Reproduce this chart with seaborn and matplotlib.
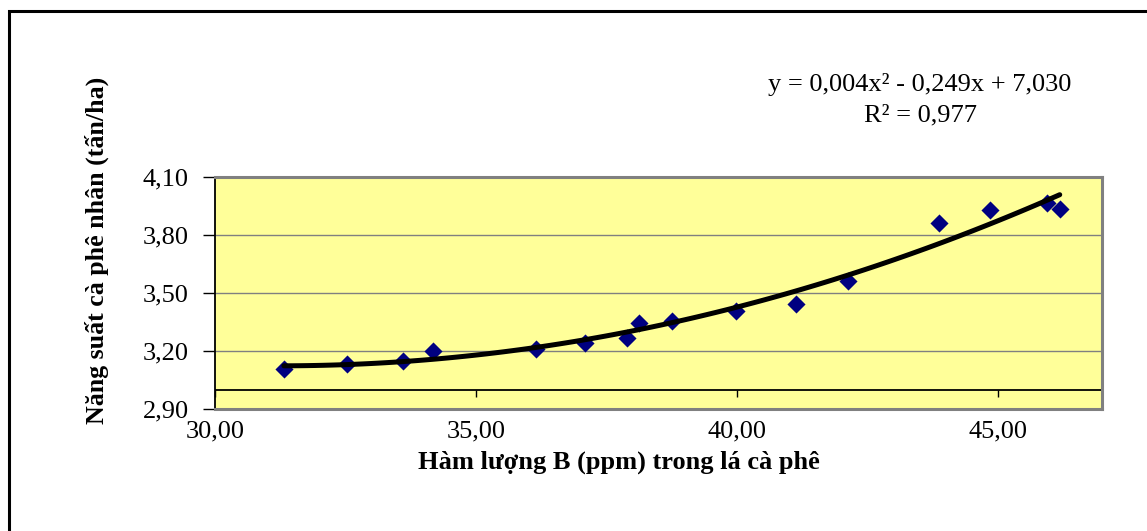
import numpy as np
import pandas as pd
import matplotlib
matplotlib.use("Agg")
import matplotlib.pyplot as plt
from matplotlib.ticker import FuncFormatter
from matplotlib.patches import Rectangle
import seaborn as sns

# Data
boron_ppm = [31.32, 32.53, 33.61, 34.18, 36.15, 37.09, 37.90, 38.12, 38.75,
             39.99, 41.14, 42.14, 43.87, 44.85, 45.94, 46.19]
yield_t_ha = [3.105, 3.135, 3.147, 3.202, 3.211, 3.240, 3.269, 3.347, 3.354,
              3.409, 3.444, 3.564, 3.862, 3.927, 3.965, 3.936]
x_ticks = [30, 35, 40, 45]
y_ticks = [2.90, 3.20, 3.50, 3.80, 4.10]
equation_text = "y = 0,004x\u00b2 - 0,249x + 7,030"
r2_text = "R\u00b2 = 0,977"
x_label = "Hàm lượng B (ppm) trong lá cà phê"
y_label = "Năng suất cà phê nhân (tấn/ha)"

df = pd.DataFrame({"B": boron_ppm, "NS": yield_t_ha})

sns.set_theme(style="white")
plt.rcParams["font.family"] = ["Liberation Serif", "DejaVu Serif"]
plt.rcParams["text.color"] = "black"

W, H = 1147, 531
fig = plt.figure(figsize=(W / 100, H / 100), dpi=100)
ax = fig.add_axes([215 / W, 1 - 409 / H, (1102 - 215) / W, (409 - 177) / H])
ax.set_facecolor("#FFFF99")

sns.regplot(data=df, x="B", y="NS", order=2, ci=None, ax=ax, marker="D",
            scatter_kws=dict(s=85, color="#000080", alpha=1, linewidths=0, zorder=3),
            line_kws=dict(color="black", lw=3.6, zorder=4))

ax.set_xlim(30, 47)
ax.set_ylim(2.90, 4.10)
ax.set_xticks(x_ticks)
ax.set_yticks(y_ticks)
fmt = FuncFormatter(lambda v, p: f"{v:.2f}".replace(".", ","))
ax.xaxis.set_major_formatter(fmt)
ax.yaxis.set_major_formatter(fmt)

# gridlines
for yv in y_ticks[1:]:
    ax.axhline(yv, color="#808080", lw=1.0, zorder=1)
ax.axhline(3.0, color="black", lw=1.3, zorder=2)

# secondary x axis at y=3.0 for tick marks
loc = (3.0 - 2.90) / (4.10 - 2.90)
sec = ax.secondary_xaxis(loc)
sec.set_xticks(x_ticks)
sec.tick_params(axis="x", direction="out", length=5, width=1, color="black",
                labelbottom=False, labeltop=False, bottom=True, top=False)
sec.spines["bottom"].set_visible(False)
sec.spines["top"].set_visible(False)

ax.tick_params(axis="x", length=0, pad=8, labelsize=19, labelcolor="black")
ax.tick_params(axis="y", left=True, direction="out", length=9, width=1,
               color="black", pad=10, labelsize=19, labelcolor="black")

for s in ["top", "right", "bottom"]:
    ax.spines[s].set_color("#808080")
    ax.spines[s].set_linewidth(2.2)
ax.spines["left"].set_color("black")
ax.spines["left"].set_linewidth(1.3)

ax.set_xlabel("")
ax.set_ylabel("")
fig.text(619 / W, 1 - 462 / H, x_label, ha="center", va="center",
         fontsize=19, fontweight="bold", color="black")
fig.text(97 / W, 1 - 250 / H, y_label, ha="center", va="center",
         rotation=90, fontsize=18.6, fontweight="bold", color="black")

fig.text(920 / W, 1 - 85 / H, equation_text, ha="center", va="center",
         fontsize=19, color="black")
fig.text(920 / W, 1 - 115 / H, r2_text, ha="center", va="center",
         fontsize=19, color="black")

fig.add_artist(Rectangle((9 / W, -0.2), 1.2, (1 - 11 / H) + 0.2,
                         transform=fig.transFigure, fill=False,
                         ec="black", lw=2.2))

fig.savefig("out.png", dpi=100, facecolor="white")
